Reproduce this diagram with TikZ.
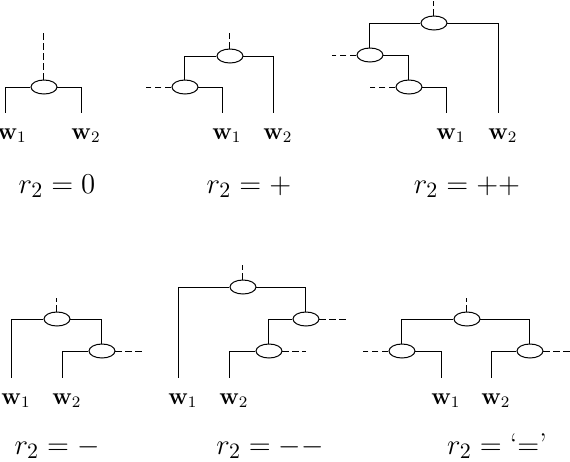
\documentclass[tikz,border=0pt]{standalone}
\usepackage{amssymb,amsmath}
\usetikzlibrary{shapes.geometric}

\begin{document}
\begin{tikzpicture}[x=0.5pt, y=-0.5pt, line width=0.5pt,
	knot/.style={shape=ellipse, draw, minimum width=13pt, minimum height=7pt, inner sep=0pt},
	word/.style={anchor=north, inner sep=0pt, font=\fontsize{12}{14}\selectfont},
	rtext/.style={anchor=base, inner sep=0pt, font=\fontsize{15}{18}\selectfont},
	corner/.style={to path={-| (\tikztotarget)}},
	stub/.style={dash pattern=on 3.3pt off 1.7pt}]
	\useasboundingbox (0,0) rectangle (570,462);

	\node (a1) at (44,87) [knot] {};
	\coordinate (a0) at (44,33);
	\coordinate (aw1) at (6,113);
	\coordinate (aw2) at (82,113);
	\node (aw1t) at (12,128) [word] {$\mathbf{w}_1$};
	\node (aw2t) at (86,128) [word] {$\mathbf{w}_2$};
	\node (ar) at (57,193) [rtext] {$r_2 = 0$};

	\node (b1) at (230,56) [knot] {};
	\node (b2) at (185,87) [knot] {};
	\coordinate (b0) at (230,33);
	\coordinate (b2s) at (146,87);
	\coordinate (bw1) at (223,113);
	\coordinate (bw2) at (274,113);
	\node (bw1t) at (227,128) [word] {$\mathbf{w}_1$};
	\node (bw2t) at (278,128) [word] {$\mathbf{w}_2$};
	\node (br) at (249,193) [rtext] {$r_2 = +$};

	\node (c1) at (434,23) [knot] {};
	\node (c2) at (370,55) [knot] {};
	\node (c3) at (409,87) [knot] {};
	\coordinate (c0) at (434,1);
	\coordinate (c2s) at (332,55);
	\coordinate (c3s) at (370,87);
	\coordinate (cw1) at (447,113);
	\coordinate (cw2) at (499,113);
	\node (cw1t) at (451,128) [word] {$\mathbf{w}_1$};
	\node (cw2t) at (503,128) [word] {$\mathbf{w}_2$};
	\node (cr) at (467,193) [rtext] {$r_2 = ++$};

	\node (d1) at (57,319) [knot] {};
	\node (d2) at (102,351) [knot] {};
	\coordinate (d0) at (57,298);
	\coordinate (d2s) at (142,351);
	\coordinate (dw1) at (12,378);
	\coordinate (dw2) at (63,378);
	\node (dw1t) at (16,393) [word] {$\mathbf{w}_1$};
	\node (dw2t) at (67,393) [word] {$\mathbf{w}_2$};
	\node (dr) at (57,454) [rtext] {$r_2 = -$};

	\node (e1) at (243,287) [knot] {};
	\node (e2) at (306,319) [knot] {};
	\node (e3) at (269,351) [knot] {};
	\coordinate (e0) at (243,265);
	\coordinate (e2s) at (346,319);
	\coordinate (e3s) at (306,351);
	\coordinate (ew1) at (179,378);
	\coordinate (ew2) at (230,378);
	\node (ew1t) at (183,393) [word] {$\mathbf{w}_1$};
	\node (ew2t) at (234,393) [word] {$\mathbf{w}_2$};
	\node (er) at (270,454) [rtext] {$r_2 = --$};

	\node (f1) at (467,319) [knot] {};
	\node (f2) at (402,351) [knot] {};
	\node (f3) at (530,351) [knot] {};
	\coordinate (f0) at (467,298);
	\coordinate (f2s) at (363,351);
	\coordinate (f3s) at (570,351);
	\coordinate (fw1) at (442,378);
	\coordinate (fw2) at (492,378);
	\node (fw1t) at (446,393) [word] {$\mathbf{w}_1$};
	\node (fw2t) at (496,393) [word] {$\mathbf{w}_2$};
	\node (fr) at (497,454) [rtext] {$r_2 = \text{`}{=}\text{'}$};

	\path 	[-]	(a1)	edge[corner]	(aw1)
				edge[corner]	(aw2)
				edge[stub]	(a0)
			(b1)	edge[corner]	(b2)
				edge[corner]	(bw2)
				edge[stub]	(b0)
			(b2)	edge[corner]	(bw1)
				edge[stub]	(b2s)
			(c1)	edge[corner]	(c2)
				edge[corner]	(cw2)
				edge[stub]	(c0)
			(c2)	edge[corner]	(c3)
				edge[stub]	(c2s)
			(c3)	edge[corner]	(cw1)
				edge[stub]	(c3s)
			(d1)	edge[corner]	(dw1)
				edge[corner]	(d2)
				edge[stub]	(d0)
			(d2)	edge[corner]	(dw2)
				edge[stub]	(d2s)
			(e1)	edge[corner]	(ew1)
				edge[corner]	(e2)
				edge[stub]	(e0)
			(e2)	edge[corner]	(e3)
				edge[stub]	(e2s)
			(e3)	edge[corner]	(ew2)
				edge[stub]	(e3s)
			(f1)	edge[corner]	(f2)
				edge[corner]	(f3)
				edge[stub]	(f0)
			(f2)	edge[corner]	(fw1)
				edge[stub]	(f2s)
			(f3)	edge[corner]	(fw2)
				edge[stub]	(f3s);
\end{tikzpicture}
\end{document}
